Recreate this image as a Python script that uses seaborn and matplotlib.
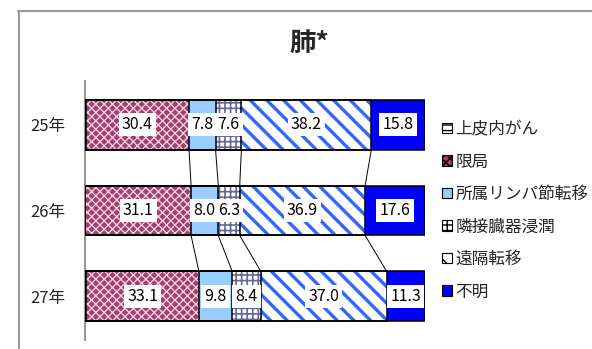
import matplotlib
matplotlib.use("Agg")
import matplotlib.pyplot as plt
import seaborn as sns
import numpy as np
import pandas as pd
from matplotlib.patches import Rectangle, Patch
from matplotlib.lines import Line2D

# data (%)
years = ['25年', '26年', '27年']
stages = ['上皮内がん', '限局', '所属リンパ節転移', '隣接臓器浸潤', '遠隔転移', '不明']
jouhi = [0.2, 0.1, 0.4]
kyokusho = [30.4, 31.1, 33.1]
lymph = [7.8, 8.0, 9.8]
rinsetsu = [7.6, 6.3, 8.4]
enkaku = [38.2, 36.9, 37.0]
fumei = [15.8, 17.6, 11.3]

series = [jouhi, kyokusho, lymph, rinsetsu, enkaku, fumei]

# (facecolor, hatch, hatch colour, hatch width)
styles = [
    ('white', '---', '#333366', 0.8),
    ('#A3406F', 'xxxx', '#F7D9E6', 0.9),
    ('#99CCFF', None, '#99CCFF', 0.8),
    ('white', '+++', '#666699', 1.2),
    ('white', '\\\\', '#3366FF', 2.4),
    ('#0000FF', None, '#0000FF', 0.8),
]

sns.set_style('white')
plt.rcParams['font.family'] = ['Noto Sans CJK JP', 'DejaVu Sans']

fig = plt.figure(figsize=(5.92, 3.49), dpi=100)
ax = fig.add_axes([85 / 592, 1 - 340 / 349, 340 / 592, 259 / 349])

BAR_H = 0.583
cum = np.cumsum(np.array(series), axis=0)

# stacked bars: draw cumulative totals from the longest down
for k in range(len(series) - 1, -1, -1):
    fc, hatch, hc, hlw = styles[k]
    df = pd.DataFrame({'year': years, 'value': cum[k]})
    with plt.rc_context({'hatch.linewidth': hlw}):
        sns.barplot(data=df, x='value', y='year', orient='h', color=fc,
                    saturation=1, width=BAR_H, hatch=hatch, edgecolor=hc,
                    linewidth=0, ax=ax)

# black outlines around each bar piece
for p in list(ax.patches):
    ax.add_patch(Rectangle(p.get_xy(), p.get_width(), p.get_height(),
                           fill=False, edgecolor='black', linewidth=1.1, zorder=3))

# series lines between bars
for k in range(1, len(series) - 1):
    for i in range(len(years) - 1):
        ax.plot([cum[k][i], cum[k][i + 1]],
                [i + BAR_H / 2, i + 1 - BAR_H / 2],
                color='black', linewidth=0.7, zorder=3)

# value labels
for k in range(1, len(series)):
    for i in range(len(years)):
        v = series[k][i]
        ax.text(cum[k][i] - v / 2, i, f'{v:.1f}', ha='center', va='center',
                fontsize=11.5, color='black', zorder=5,
                bbox=dict(boxstyle='square,pad=0.2', facecolor='white',
                          edgecolor='none'))

ax.set_xlim(0, 100)
ax.set_ylim(2.51, -0.51)
ax.set_xlabel('')
ax.set_ylabel('')
ax.set_xticks([])
ax.tick_params(axis='y', length=0, pad=14, labelsize=12)
for s in ['top', 'right', 'bottom']:
    ax.spines[s].set_visible(False)
ax.spines['left'].set_color('#999999')
ax.spines['left'].set_linewidth(1.5)

# title
fig.text(309 / 592, 1 - 43 / 349, '肺*', ha='center', va='center',
         fontsize=19, fontweight='bold')

# legend
handles = [Patch(facecolor=st[0], hatch=st[1], edgecolor='black', linewidth=0.8)
           for st in styles]
fig.legend(handles, stages, loc='upper left', bbox_to_anchor=(442 / 592, 1 - 121 / 349),
           frameon=False, fontsize=12, handlelength=0.6, handleheight=0.6,
           handletextpad=0.2, labelspacing=0.93, borderpad=0, borderaxespad=0)

# outer chart frame (partial)
fig.add_artist(Line2D([18.5 / 592, 18.5 / 592], [0, 1 - 11 / 349],
                      transform=fig.transFigure, color='#999999', linewidth=1.5))
fig.add_artist(Line2D([18 / 592, 1], [1 - 11 / 349, 1 - 11 / 349],
                      transform=fig.transFigure, color='#999999', linewidth=1.5))

fig.savefig('out.png', dpi=100)
